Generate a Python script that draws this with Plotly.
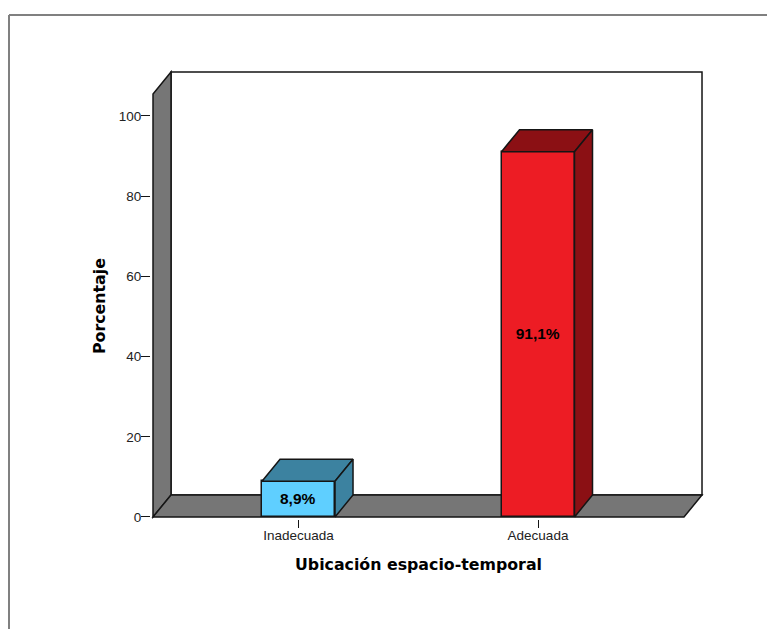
import plotly.graph_objects as go

categories = ["Inadecuada", "Adecuada"]
percentages = [8.9, 91.1]
bar_labels = ["<b>8,9%</b>", "<b>91,1%</b>"]
y_ticks = [0, 20, 40, 60, 80, 100]

front_colors = ["#5FCFFF", "#ED1C24"]
shade_colors = ["#3C82A0", "#8B1014"]
WALL = "#767676"
INK = "#151515"
BAR_W = 0.3048
DX, DY = 0.0752, 5.49
X0, X1 = -0.6075, 1.6096
YTOP = 105.5
idx = list(range(len(categories)))

W, H = 767, 629
ML, MR, MT, MB = 151, 63, 70, 110


def px(x):
    return (x - ML) / (W - ML - MR)


def py(y):
    return (H - MB - y) / (H - MT - MB)


def poly(points):
    return "M" + "L".join(f"{x},{y}" for x, y in points) + "Z"


def wall(points, fill):
    return dict(type="path", xref="x", yref="y", layer="below", path=poly(points),
                fillcolor=fill, line=dict(color=INK, width=1.5))


shapes = [
    wall([(X0 + DX, DY), (X1 + DX, DY), (X1 + DX, YTOP + DY), (X0 + DX, YTOP + DY)], "white"),
    wall([(X0, 0), (X0 + DX, DY), (X0 + DX, YTOP + DY), (X0, YTOP)], WALL),
    wall([(X0, 0), (X1, 0), (X1 + DX, DY), (X0 + DX, DY)], WALL),
    dict(type="line", xref="paper", yref="paper", x0=px(9), x1=px(9), y0=py(H), y1=py(15),
         line=dict(color="#808080", width=2)),
    dict(type="line", xref="paper", yref="paper", x0=px(9), x1=px(W), y0=py(15), y1=py(15),
         line=dict(color="#808080", width=2)),
]

fig = go.Figure()
fig.add_trace(go.Bar(
    x=idx, y=percentages, width=BAR_W, marker=dict(color=front_colors, line=dict(color=INK, width=1.5)),
    text=bar_labels, textposition="inside", insidetextanchor="middle", textangle=0, constraintext="none",
    textfont=dict(family="Liberation Sans", size=15.5, color="black"), hoverinfo="skip",
))
for i, v, c in zip(idx, percentages, shade_colors):
    l, r = i - BAR_W / 2, i + BAR_W / 2
    fig.add_trace(go.Scatter(
        x=[l, r, r + DX, l + DX, l], y=[v, v, v + DY, v + DY, v], mode="lines", fill="toself",
        fillcolor=c, line=dict(color=INK, width=1.5), hoverinfo="skip", cliponaxis=False))
    fig.add_trace(go.Scatter(
        x=[r, r + DX, r + DX, r, r], y=[0, DY, v + DY, v, 0], mode="lines", fill="toself",
        fillcolor=c, line=dict(color=INK, width=1.5), hoverinfo="skip", cliponaxis=False))

title_font = dict(family="DejaVu Sans", size=15.8, color="black")
annotations = [
    dict(text="<b>Ubicación espacio-temporal</b>", xref="paper", yref="paper", x=px(418), y=py(564),
         showarrow=False, xanchor="center", yanchor="middle", font=title_font),
    dict(text="<b>Porcentaje</b>", xref="paper", yref="paper", x=px(99), y=py(306), textangle=-90,
         showarrow=False, xanchor="center", yanchor="middle", font=title_font),
]

fig.update_layout(
    width=W, height=H, showlegend=False, paper_bgcolor="white", plot_bgcolor="white",
    margin=dict(l=ML, r=MR, t=MT, b=MB), shapes=shapes, annotations=annotations, bargap=0,
    font=dict(family="Liberation Sans", color="#222222", size=13.5),
    xaxis=dict(range=[-0.6159, 1.6931], tickvals=idx, ticktext=categories,
               showgrid=False, zeroline=False, showline=False, ticks="outside", ticklen=8, tickwidth=1.2,
               tickcolor=INK, ticklabelstandoff=-4),
    yaxis=dict(range=[-0.5, 111.47], tickvals=y_ticks, showgrid=False, zeroline=False, showline=False,
               ticks="outside", ticklen=9, tickwidth=1.2, tickcolor=INK, ticklabelstandoff=-3),
)
fig.write_html("out.html", config=dict(displayModeBar=False),
               post_script="document.body.style.margin='0';document.documentElement.style.overflow='hidden';")
